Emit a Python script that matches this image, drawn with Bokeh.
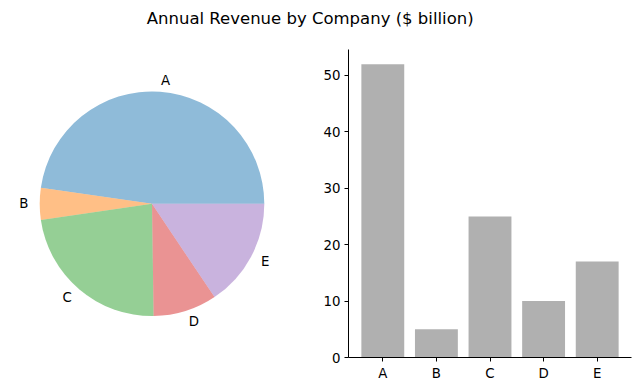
import math
from bokeh.plotting import figure
from bokeh.layouts import column, row
from bokeh.models import Range1d, FixedTicker, ColumnDataSource
from bokeh.core.properties import value
from bokeh.embed import file_html
from bokeh.resources import INLINE

# ---- data ----
title_text = "Annual Revenue by Company ($ billion)"
categories = ["A", "B", "C", "D", "E"]
revenue = [52, 5, 25, 10, 17]
pie_colors = ["#1f77b4", "#ff7f0e", "#2ca02c", "#d62728", "#9467bd"]
y_ticks = [0, 10, 20, 30, 40, 50]

FONT = "DejaVu Sans"

# ---- layout geometry (px) ----
TOTAL_W = 639
TITLE_H = 38
BODY_H = 353
PIE_W = 308
BAR_W = TOTAL_W - PIE_W
B_TOP, B_BOT = 11, 34
FRAME_H = BODY_H - B_TOP - B_BOT

# ---- title ----
tf = figure(width=TOTAL_W, height=TITLE_H, x_range=Range1d(0, TOTAL_W), y_range=Range1d(0, TITLE_H),
            x_axis_type=None, y_axis_type=None, min_border=0, toolbar_location=None,
            output_backend="svg")
tf.outline_line_color = None
tf.grid.visible = False
tf.text(x=[309.7], y=[TITLE_H - 18], text=[title_text], text_align="center",
        text_baseline="alphabetic", text_font=value(FONT), text_font_size="16.5px",
        text_color="black")

# ---- pie ----
pf = figure(width=PIE_W, height=BODY_H, x_range=Range1d(0, PIE_W), y_range=Range1d(0, FRAME_H),
            x_axis_type=None, y_axis_type=None, min_border=0, min_border_top=B_TOP,
            min_border_bottom=B_BOT, toolbar_location=None, output_backend="svg")
pf.outline_line_color = None
pf.grid.visible = False

# window pixel (151.5, 203.3); frame bottom at window y 357
cx, cy, r = 151.5, 357 - 203.3, 112.3
total = float(sum(revenue))
starts, ends, mids = [], [], []
acc = 0.0
for v in revenue:
    a0 = 2 * math.pi * acc / total
    acc += v
    a1 = 2 * math.pi * acc / total
    starts.append(a0)
    ends.append(a1)
    mids.append((a0 + a1) / 2)

src = ColumnDataSource(dict(start=starts, end=ends, color=pie_colors, cat=categories))
pf.wedge(x=cx, y=cy, radius=r, start_angle="start", end_angle="end", direction="anticlock",
         fill_color="color", fill_alpha=0.5, line_color=None, source=src)

lx = [cx + 1.1 * r * math.cos(m) for m in mids]
ly = [cy + 1.1 * r * math.sin(m) for m in mids]
for xi, yi, lab in zip(lx, ly, categories):
    pf.text(x=[xi], y=[yi], text=[lab], text_align="left" if xi > cx else "right",
            text_baseline="middle", text_font=value(FONT), text_font_size="13.33px",
            text_color="black")

# ---- bars ----
bf = figure(width=BAR_W, height=BODY_H, x_range=Range1d(-0.64, 4.64), y_range=Range1d(0, 54.6),
            min_border_left=40, min_border_right=8, min_border_top=B_TOP, min_border_bottom=B_BOT,
            toolbar_location=None, output_backend="svg")
bf.outline_line_color = None
bf.grid.visible = False
xs = list(range(len(categories)))
bf.vbar(x=xs, top=revenue, width=0.8, fill_color="#b0b0b0", line_color=None)

bf.xaxis.ticker = FixedTicker(ticks=xs)
bf.xaxis.major_label_overrides = {i: c for i, c in zip(xs, categories)}
bf.yaxis.ticker = FixedTicker(ticks=y_ticks)
for ax in (bf.xaxis, bf.yaxis):
    ax.axis_line_color = "black"
    ax.axis_line_width = 1
    ax.major_tick_line_color = "black"
    ax.major_tick_line_width = 1
    ax.major_tick_out = 4
    ax.major_tick_in = 0
    ax.minor_tick_line_color = None
    ax.major_label_text_font = FONT
    ax.major_label_text_font_size = "13.33px"
    ax.major_label_text_color = "black"
    ax.major_label_standoff = 4

layout = column(tf, row(pf, bf))
open("out.html", "w").write(file_html(layout, INLINE))
